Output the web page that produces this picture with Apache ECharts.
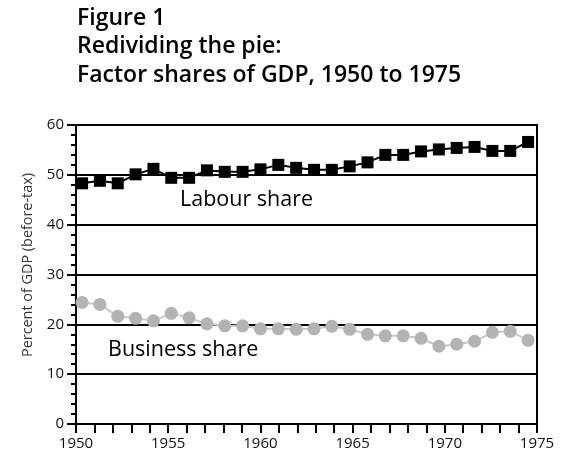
<!DOCTYPE html>
<html>
<head>
<meta charset="utf-8">
<script src="https://cdn.jsdelivr.net/npm/echarts@6/dist/echarts.min.js"></script>
<style>
	html, body { margin: 0; padding: 0; background: #fff; }
	#chart-div { width: 562px; height: 476px; }
</style>
</head>
<body>
<div id="chart-div"></div>
<script>
// 年份与两条序列（数值读自原图）
var g_years = [1950, 1951, 1952, 1953, 1954, 1955, 1956, 1957, 1958, 1959,
	       1960, 1961, 1962, 1963, 1964, 1965, 1966, 1967, 1968, 1969,
	       1970, 1971, 1972, 1973, 1974, 1975];
var g_labour = [48.3, 48.8, 48.3, 50.1, 51.2, 49.4, 49.4, 50.9, 50.6, 50.6,
		51.1, 52.0, 51.4, 51.0, 51.0, 51.7, 52.5, 54.0, 54.0, 54.7,
		55.1, 55.4, 55.6, 54.8, 54.8, 56.6];
var g_business = [24.4, 24.0, 21.6, 21.2, 20.7, 22.2, 21.3, 20.1, 19.7, 19.7,
		  19.1, 19.1, 19.0, 19.1, 19.6, 19.0, 18.0, 17.7, 17.7, 17.2,
		  15.6, 16.0, 16.6, 18.4, 18.6, 16.8];
var g_y_ticks = [0, 10, 20, 30, 40, 50, 60];

var g_font = "Open Sans, Noto Sans, sans-serif";

var g_chart = echarts.init(document.getElementById("chart-div"));

var g_option = {
	animation: false,
	title: {
		text: "Figure 1\nRedividing the pie:\nFactor shares of GDP, 1950 to 1975",
		left: 77,
		top: 4,
		padding: 0,
		textStyle: {
			fontFamily: g_font,
			fontSize: 23,
			fontWeight: 600,
			lineHeight: 28.5,
			color: "#000"
		}
	},
	grid: {
		left: 76,
		right: 25,
		top: 125,
		bottom: 52,
		show: true,
		borderColor: "#000",
		borderWidth: 2,
		backgroundColor: "transparent"
	},
	xAxis: [{
		// 可见的年份轴
		type: "value",
		min: 1950,
		max: 1975,
		interval: 5,
		axisLine: { show: true, lineStyle: { color: "#000", width: 2 } },
		axisTick: { show: true, inside: false, length: 9,
			    lineStyle: { color: "#000", width: 2 } },
		minorTick: { show: true, splitNumber: 5, length: 9,
			     lineStyle: { color: "#000", width: 2 } },
		splitLine: { show: false },
		axisLabel: {
			margin: 12,
			fontFamily: g_font,
			fontSize: 15,
			color: "#111",
			formatter: v => String(v)
		}
	}, {
		// 数据点所在的隐藏轴（原图的点略微内缩）
		type: "value",
		min: 1949.66,
		max: 1975.5,
		show: false
	}],
	yAxis: {
		type: "value",
		min: g_y_ticks[0],
		max: g_y_ticks[g_y_ticks.length - 1],
		interval: 10,
		axisLine: { show: true, lineStyle: { color: "#000", width: 2 } },
		axisTick: { show: true, inside: false, length: 9,
			    lineStyle: { color: "#000", width: 2 } },
		minorTick: { show: true, splitNumber: 5, length: 5,
			     lineStyle: { color: "#000", width: 2 } },
		splitLine: { show: true, lineStyle: { color: "#000", width: 2 } },
		axisLabel: {
			margin: 12,
			fontFamily: g_font,
			fontSize: 15,
			color: "#111"
		}
	},
	series: [{
		name: "Labour share",
		type: "line",
		xAxisIndex: 1,
		data: g_years.map((v, i) => [v, g_labour[i]]),
		symbol: "rect",
		symbolSize: 12,
		itemStyle: { color: "#000" },
		lineStyle: { color: "#000", width: 2 },
		z: 3
	}, {
		name: "Business share",
		type: "line",
		xAxisIndex: 1,
		data: g_years.map((v, i) => [v, g_business[i]]),
		symbol: "circle",
		symbolSize: 13,
		itemStyle: { color: "#b3b3b3" },
		lineStyle: { color: "#c8c8c8", width: 2 },
		z: 3
	}],
	graphic: [{
		// 纵轴标题（原图略偏上）
		type: "text",
		x: 28,
		y: 265,
		rotation: Math.PI / 2,
		style: { text: "Percent of GDP (before-tax)",
			 fontFamily: g_font, fontSize: 14.4, fill: "#333",
			 align: "center", verticalAlign: "middle" }
	}, {
		type: "text",
		left: 180,
		top: 189,
		style: { text: "Labour share", fontFamily: g_font,
			 fontSize: 21.5, fill: "#000" }
	}, {
		type: "text",
		left: 108,
		top: 339,
		style: { text: "Business share", fontFamily: g_font,
			 fontSize: 21.5, fill: "#000" }
	}]
};

g_chart.setOption(g_option);
window.addEventListener("resize", g_chart.resize);
</script>
</body>
</html>
